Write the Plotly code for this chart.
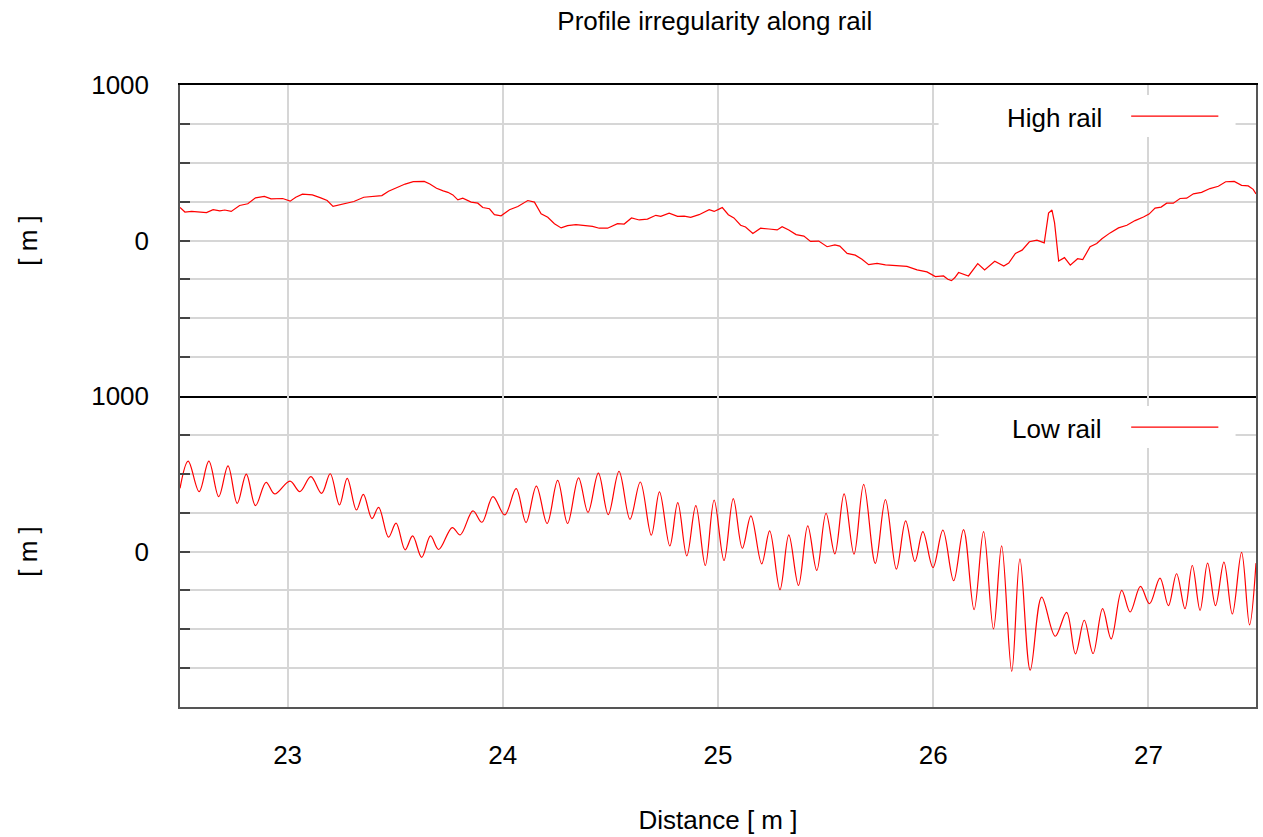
import plotly.graph_objects as go
from plotly.subplots import make_subplots

# ---------------- data ----------------
high_x = [22.500, 22.523, 22.554, 22.592, 22.623, 22.654, 22.685, 22.708, 22.738, 22.777,
          22.815, 22.851, 22.892, 22.923, 22.977, 23.012, 23.038, 23.069, 23.115, 23.154,
          23.184, 23.211, 23.254, 23.308, 23.354, 23.392, 23.438, 23.469, 23.515, 23.546,
          23.584, 23.635, 23.661, 23.692, 23.723, 23.745, 23.768, 23.791, 23.814, 23.853,
          23.884, 23.907, 23.938, 23.961, 23.992, 24.031, 24.070, 24.116, 24.147, 24.178,
          24.209, 24.240, 24.271, 24.301, 24.340, 24.387, 24.417, 24.448, 24.487, 24.533,
          24.564, 24.598, 24.634, 24.672, 24.711, 24.734, 24.773, 24.812, 24.843, 24.873,
          24.912, 24.959, 24.982, 25.005, 25.020, 25.048, 25.074, 25.105, 25.128, 25.162,
          25.198, 25.237, 25.275, 25.298, 25.329, 25.363, 25.399, 25.430, 25.468, 25.507,
          25.543, 25.566, 25.600, 25.638, 25.669, 25.700, 25.739, 25.778, 25.824, 25.878,
          25.925, 25.971, 26.010, 26.048, 26.068, 26.085, 26.100, 26.118, 26.164, 26.207,
          26.239, 26.286, 26.328, 26.351, 26.382, 26.413, 26.447, 26.482, 26.516, 26.536,
          26.552, 26.564, 26.583, 26.610, 26.637, 26.671, 26.695, 26.729, 26.760, 26.784,
          26.822, 26.861, 26.900, 26.938, 26.977, 27.003, 27.031, 27.059, 27.085, 27.116,
          27.147, 27.178, 27.209, 27.247, 27.286, 27.325, 27.359, 27.399, 27.433, 27.464,
          27.487, 27.500]
high_y = [212, 183, 187, 181, 179, 198, 191, 196, 187, 225,
          236, 274, 283, 268, 270, 253, 278, 298, 293, 274,
          257, 219, 232, 251, 278, 283, 289, 317, 346, 363,
          378, 380, 363, 336, 319, 310, 293, 261, 272, 247,
          240, 212, 204, 166, 159, 198, 219, 257, 247, 172,
          149, 108, 81, 96, 102, 94, 91, 79, 79, 108,
          106, 145, 132, 138, 162, 155, 176, 155, 157, 149,
          166, 198, 187, 202, 212, 166, 145, 98, 87, 45,
          79, 74, 68, 89, 68, 38, 28, -6, -4, -40,
          -28, -36, -83, -94, -121, -155, -147, -157, -162, -166,
          -189, -202, -232, -228, -249, -258, -240, -206, -228, -149,
          -189, -134, -164, -145, -83, -62, -8, 2, -15, 176,
          196, 113, -132, -110, -159, -117, -123, -40, -19, 11,
          49, 81, 98, 128, 151, 170, 208, 215, 240, 240,
          270, 272, 300, 310, 334, 349, 378, 380, 355, 351,
          329, 300]

low_x = [22.500, 22.538, 22.589, 22.634, 22.680, 22.723, 22.766, 22.808, 22.851, 22.900,
         22.940, 23.011, 23.057, 23.108, 23.158, 23.198, 23.241, 23.277, 23.320, 23.352,
         23.392, 23.423, 23.469, 23.504, 23.546, 23.581, 23.623, 23.664, 23.702, 23.765,
         23.802, 23.861, 23.903, 23.954, 24.009, 24.062, 24.108, 24.156, 24.206, 24.255,
         24.301, 24.352, 24.396, 24.444, 24.490, 24.540, 24.591, 24.639, 24.690, 24.728,
         24.776, 24.813, 24.855, 24.897, 24.941, 24.982, 25.028, 25.071, 25.113, 25.153,
         25.203, 25.240, 25.288, 25.329, 25.374, 25.417, 25.459, 25.502, 25.543, 25.586,
         25.632, 25.677, 25.731, 25.778, 25.829, 25.872, 25.915, 25.952, 25.999, 26.045,
         26.095, 26.141, 26.190, 26.234, 26.280, 26.318, 26.365, 26.403, 26.451, 26.504,
         26.567, 26.620, 26.661, 26.702, 26.743, 26.787, 26.827, 26.876, 26.915, 26.963,
         27.005, 27.054, 27.093, 27.131, 27.170, 27.204, 27.240, 27.275, 27.312, 27.351,
         27.390, 27.433, 27.470, 27.500]
low_y = [406, 581, 385, 581, 353, 551, 310, 498, 295, 445,
         370, 453, 385, 481, 374, 500, 299, 470, 267, 368,
         212, 284, 92, 182, 11, 100, -38, 100, 13, 154,
         107, 261, 188, 353, 235, 404, 186, 421, 180, 457,
         180, 474, 252, 504, 237, 515, 207, 447, 105, 383,
         36, 314, -28, 295, -90, 331, -58, 340, 21, 229,
         -79, 132, -246, 107, -218, 165, -122, 246, -15, 370,
         -17, 432, -77, 333, -113, 197, -64, 128, -103, 137,
         -188, 141, -374, 128, -498, 36, -771, -47, -763, -293,
         -545, -391, -658, -442, -656, -368, -562, -250, -389, -224,
         -336, -171, -348, -143, -368, -90, -378, -75, -348, -68,
         -402, -6, -472, -75]

x_ticks = [23, 24, 25, 26, 27]
y_ticks = [-1000, -750, -500, -250, 0, 250, 500, 750, 1000]
y_ticktext = ["", "", "", "", "0", "", "", "", "1000"]
series_names = ["High rail", "Low rail"]

# ---------------- figure ----------------
FONT = "Liberation Sans, Arial, sans-serif"
FS = 26
RED = "#ff0000"
GRID = "#d6d6d6"

fig = make_subplots(rows=2, cols=1, shared_xaxes=True, vertical_spacing=0)
fig.add_trace(go.Scatter(x=high_x, y=high_y, mode="lines", name=series_names[0],
                         line=dict(color=RED, width=1.2), showlegend=False), row=1, col=1)
fig.add_trace(go.Scatter(x=low_x, y=low_y, mode="lines", name=series_names[1],
                         line=dict(color=RED, width=1.2, shape="spline", smoothing=1.0),
                         showlegend=False), row=2, col=1)

common_y = dict(range=[-1000, 1000], tickvals=y_ticks, ticktext=y_ticktext,
                showgrid=True, gridcolor=GRID, gridwidth=1.5, zeroline=False,
                showline=True, linecolor="#555555", linewidth=1.5, mirror=True,
                ticks="inside", ticklen=10, tickcolor="#444444", tickwidth=1.5,
                ticklabelstandoff=24,
                tickfont=dict(family=FONT, size=FS, color="#000000"),
                title=dict(text="[ m ]", font=dict(family=FONT, size=FS, color="#000000"),
                           standoff=46),
                fixedrange=True)
fig.update_yaxes(**common_y, row=1, col=1)
fig.update_yaxes(**common_y, row=2, col=1)

fig.update_xaxes(range=[22.5, 27.5], tickvals=x_ticks, showgrid=True, gridcolor=GRID,
                 gridwidth=1.5, zeroline=False, ticks="", fixedrange=True)
fig.update_xaxes(showline=True, linecolor="#000000", linewidth=2, mirror=True,
                 showticklabels=False, row=1, col=1)
fig.update_xaxes(showline=True, linecolor="#555555", linewidth=1.5, mirror=False,
                 showticklabels=True, ticklabelstandoff=24,
                 tickfont=dict(family=FONT, size=FS, color="#000000"),
                 title=dict(text="Distance [ m ]", font=dict(family=FONT, size=FS, color="#000000"),
                            standoff=42),
                 row=2, col=1)

# legend boxes drawn as annotations (text left of line sample, like the reference)
for i, (xr, yr) in enumerate([("x domain", "y domain"), ("x2 domain", "y2 domain")]):
    fig.add_shape(type="rect", xref=xr, yref=yr, x0=0.705, x1=0.981, y0=0.833, y1=0.968,
                  fillcolor="#ffffff", line=dict(width=0), layer="above")
    fig.add_shape(type="line", xref=xr, yref=yr, x0=0.884, x1=0.965, y0=0.900, y1=0.900,
                  line=dict(color=RED, width=1.2), layer="above")
    fig.add_annotation(xref=xr, yref=yr, x=0.859, y=0.894, xanchor="right", yanchor="middle",
                       text=series_names[i], showarrow=False,
                       font=dict(family=FONT, size=FS, color="#000000"))

fig.update_layout(
    width=1263, height=837,
    margin=dict(l=180, r=5, t=85, b=130),
    paper_bgcolor="#ffffff", plot_bgcolor="#ffffff",
    title=dict(text="Profile irregularity along rail", x=0.566, xanchor="center",
               y=0.975, yanchor="middle",
               font=dict(family=FONT, size=FS, color="#000000")),
    showlegend=False,
)

fig.write_html("out.html",
               config={"displayModeBar": False},
               post_script="document.body.style.margin='0';"
                           "document.body.style.overflow='hidden';")
